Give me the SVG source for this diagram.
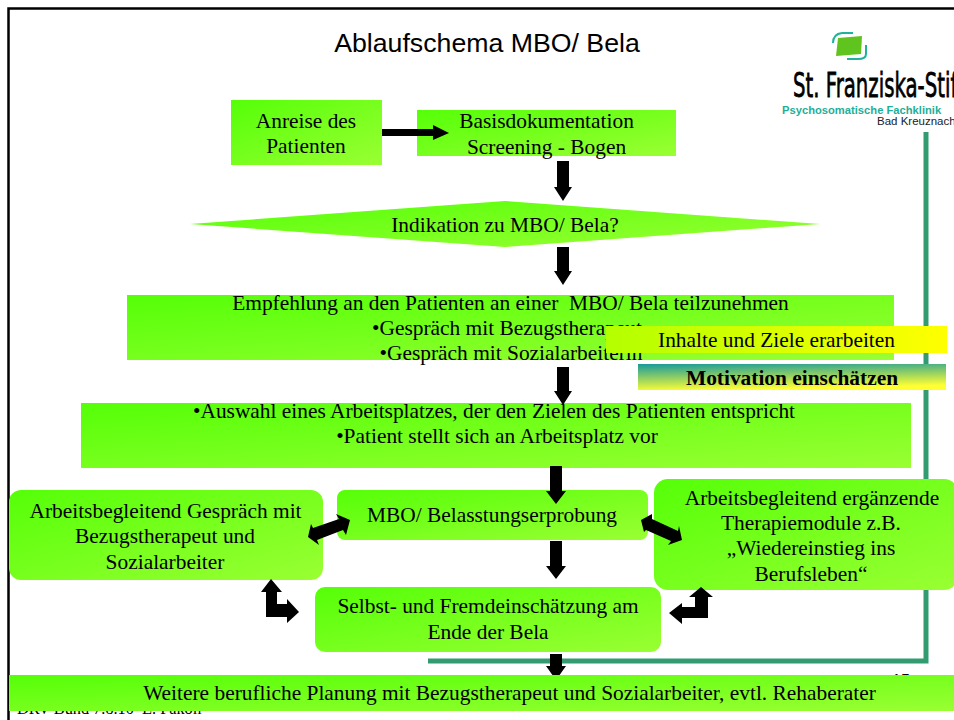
<svg xmlns="http://www.w3.org/2000/svg" width="954" height="720" viewBox="0 0 954 720">
<style>
text{font-family:"Liberation Serif","Times New Roman",serif;font-size:21.400px;fill:#000;text-anchor:middle;white-space:pre}
.g{fill:url(#gr)}
.a{fill:#000}
</style>
<defs>
<linearGradient id="gr" x1="0" y1="0" x2="1" y2="1"><stop offset="0" stop-color="#55ff08"/><stop offset="1" stop-color="#9aff33"/></linearGradient>
<linearGradient id="gy" x1="0" y1="0" x2="1" y2="0"><stop offset="0" stop-color="#b4ff00"/><stop offset="1" stop-color="#ffff00"/></linearGradient>
<linearGradient id="gm" x1="0" y1="0" x2="0.25" y2="1"><stop offset="0" stop-color="#189a9a"/><stop offset="1" stop-color="#ffff33"/></linearGradient>
</defs>
<rect width="954" height="720" fill="#fff"/>
<g id="frame" fill="none">
<path d="M8.500 720V8.500H954" stroke="#000" stroke-width="2.500"/>
<path d="M926 132V661H428" stroke="#339b70" stroke-width="5"/>
</g>
<text x="487" y="52" style="font-family:'Liberation Sans',Arial,sans-serif;font-size:26.700px">Ablaufschema MBO/ Bela</text>
<g id="logo">
<path d="M833 43Q833 34 842 33L853 33" fill="none" stroke="#1fb39b" stroke-width="2"/>
<path d="M866 45V54Q866 59 858 59H847" fill="none" stroke="#1fb39b" stroke-width="2"/>
<path d="M838 38L862 36L861 54L836 56Z" fill="#5fc41e"/>
<text x="793" y="97" transform="translate(793 0) scale(0.58 1) translate(-793 0)" style="font-family:'DejaVu Sans',sans-serif;font-size:34px;text-anchor:start" stroke="#000" stroke-width="0.800">St. Franziska-Stift</text>
<text x="782" y="114" style="font-family:'Liberation Sans',sans-serif;font-size:11.200px;font-weight:bold;fill:#1fae98;text-anchor:start">Psychosomatische Fachklinik</text>
<text x="877" y="125" style="font-family:'Liberation Sans',sans-serif;font-size:11.500px;text-anchor:start;fill:#222">Bad Kreuznach</text>
</g>
<g id="anreise"><rect class="g" x="231" y="100" width="151" height="65"/><text x="306" y="128">Anreise des</text><text x="306" y="153">Patienten</text></g>
<g id="basis"><rect class="g" x="417" y="110" width="259" height="46"/><text x="546.500" y="128">Basisdokumentation</text><text x="546.500" y="154">Screening - Bogen</text></g>
<g id="indikation"><polygon class="g" points="190,224 505,201 820,224 505,247"/><text x="505" y="232">Indikation zu MBO/ Bela?</text></g>
<g id="empfehlung"><rect class="g" x="127" y="295" width="767" height="65"/><text x="510.500" y="310">Empfehlung an den Patienten an einer  MBO/ Bela teilzunehmen</text><text x="507" y="335">•Gespräch mit Bezugstherapeut</text><text x="511" y="360">•Gespräch mit Sozialarbeiterin</text></g>
<g id="inhalte"><rect x="606" y="326" width="341" height="27" fill="url(#gy)"/><text x="776.500" y="347">Inhalte und Ziele erarbeiten</text></g>
<g id="motivation"><rect x="638" y="364" width="308" height="26" fill="url(#gm)"/><text x="792" y="385" font-weight="bold">Motivation einschätzen</text></g>
<g id="auswahl"><rect class="g" x="81" y="403" width="830" height="65"/><text x="494" y="418">•Auswahl eines Arbeitsplatzes, der den Zielen des Patienten entspricht</text><text x="497" y="443">•Patient stellt sich an Arbeitsplatz vor</text></g>
<g id="begleitgespraech"><rect class="g" x="9" y="490" width="314" height="90" rx="12"/><text x="165.500" y="518">Arbeitsbegleitend Gespräch mit</text><text x="165" y="543">Bezugstherapeut und</text><text x="165" y="569">Sozialarbeiter</text></g>
<g id="mbo"><rect class="g" x="337" y="490" width="311" height="50" rx="8"/><text x="492" y="522">MBO/ Belasstungserprobung</text></g>
<g id="module"><rect class="g" x="654" y="479" width="304" height="111" rx="14"/><text x="812" y="505">Arbeitsbegleitend ergänzende</text><text x="811" y="530">Therapiemodule z.B.</text><text x="811" y="555">„Wiedereinstieg ins</text><text x="811" y="581">Berufsleben“</text></g>
<g id="selbst"><rect class="g" x="315" y="587" width="346" height="65" rx="10"/><text x="488" y="613">Selbst- und Fremdeinschätzung am</text><text x="488" y="639">Ende der Bela</text></g>
<g id="footer-notes">
<text x="17" y="714" style="font-size:16.300px;text-anchor:start">DRV Bund 7.8.10  E. Fakoll</text>
<text x="901" y="686" style="font-family:'Liberation Sans',sans-serif;font-size:16px">15</text>
</g>
<g id="connectors">
<polygon class="a" points="382,129 433,129 433,125 449,133 433,140 433,136 382,136"/>
<polygon class="a" points="557,161 569,161 569,187 572,187 563,201 554,187 557,187"/>
<polygon class="a" points="557,247 569,247 569,271 572,271 563,285 554,271 557,271"/>
<polygon class="a" points="557,367 569,367 569,391 572,391 563,405 554,391 557,391"/>
<polygon class="a" points="550,466 562,466 562,491 566,491 556,504 546,491 550,491"/>
<polygon class="a" points="550,541 562,541 562,566 566,566 556,579 546,566 550,566"/>
<polygon class="a" points="550,654 562,654 562,666 566,666 556,680 546,666 550,666"/>
<polygon class="a" points="308,537 319,545 317,540 343,530 346,535 350,520 336,514 339,519 313,528 311,524"/>
<polygon class="a" points="641,520 652,514 652,519 678,531 679,526 682,540 668,545 671,541 646,530 644,532"/>
<polygon class="a" points="271,579 282,592 277,592 277,604 287,604 287,599 299,612 287,623 287,617 266,617 266,592 261,592"/>
<polygon class="a" points="701,587 713,597 708,597 708,618 682,618 682,624 669,613 682,603 682,607 695,607 695,597 689,597"/>
</g>
<g id="weitere"><rect class="g" x="9" y="675" width="945" height="36"/><text x="509.500" y="700">Weitere berufliche Planung mit Bezugstherapeut und Sozialarbeiter, evtl. Rehaberater</text></g>
</svg>
